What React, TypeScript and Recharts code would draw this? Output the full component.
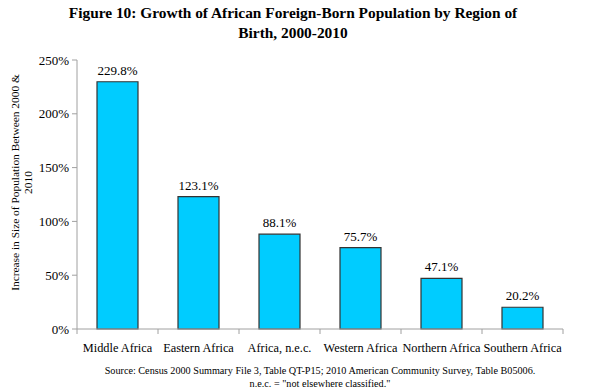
import { BarChart, Bar, XAxis, YAxis, LabelList } from "recharts";

const REGIONS = [
  "Middle Africa",
  "Eastern Africa",
  "Africa, n.e.c.",
  "Western Africa",
  "Northern Africa",
  "Southern Africa",
];
const GROWTH = [229.8, 123.1, 88.1, 75.7, 47.1, 20.2];
const Y_TICKS = [0, 50, 100, 150, 200, 250];

const FONT = "Liberation Serif, Times New Roman, serif";
const BAR_FILL = "#00ccff";
const BAR_STROKE = "#333333";
const AXIS = "#a0a0a0";
const TEXT = "#000000";

const data = REGIONS.map((region, i) => ({ region, growth: GROWTH[i] }));

const W = 590;
const H = 391;

function XTick(props: any) {
  const { x, y, payload, index } = props;
  const half = 40.5;
  return (
    <g>
      <line x1={x - half} x2={x - half} y1={y - 8} y2={y - 3} stroke={AXIS} />
      {index === REGIONS.length - 1 && (
        <line x1={x + half} x2={x + half} y1={y - 8} y2={y - 3} stroke={AXIS} />
      )}
      <text x={x} y={y + 15} textAnchor="middle" fontSize={12.3} fill={TEXT} style={{ fontFamily: FONT }}>
        {payload.value}
      </text>
    </g>
  );
}

function YLabel(props: any) {
  const { viewBox } = props;
  const cy = viewBox.y + viewBox.height / 2 - 12;
  return (
    <text
      transform={`translate(0, ${cy}) rotate(-90)`}
      textAnchor="middle"
      fontSize={11.4}
      fill={TEXT}
      style={{ fontFamily: FONT }}
    >
      <tspan x={0} y={19}>Increase in Size of Population Between 2000 &amp;</tspan>
      <tspan x={0} y={32}>2010</tspan>
    </text>
  );
}

export default function App() {
  return (
    <div style={{ position: "absolute", left: 0, top: 0, width: W, height: H, background: "#fff", fontFamily: FONT }}>
      <div
        style={{
          position: "absolute",
          left: -2,
          top: 3,
          width: W,
          textAlign: "center",
          fontWeight: "bold",
          fontSize: 15.4,
          lineHeight: "20px",
          color: TEXT,
        }}
      >
        Figure 10: Growth of African Foreign-Born Population by Region of
        <br />
        Birth, 2000-2010
      </div>
      <BarChart
        width={W}
        height={H}
        data={data}
        margin={{ top: 60, right: 27, left: 20, bottom: 32 }}
        style={{ fontFamily: FONT }}
      >
        <XAxis
          dataKey="region"
          stroke={AXIS}
          tickLine={false}
          tick={<XTick />}
          interval={0}
          height={30}
        />
        <YAxis
          width={57}
          domain={[0, 250]}
          ticks={Y_TICKS}
          tickFormatter={(v) => `${v}%`}
          stroke={AXIS}
          tickSize={5}
          tickMargin={3}
          tick={{ fontSize: 13, fill: TEXT, style: { fontFamily: FONT } }}
          label={<YLabel />}
        />
        <Bar
          dataKey="growth"
          fill={BAR_FILL}
          stroke={BAR_STROKE}
          strokeWidth={1.2}
          barSize={41}
          isAnimationActive={false}
        >
          <LabelList
            dataKey="growth"
            position="top"
            offset={7}
            formatter={(v: any) => `${Number(v).toFixed(1)}%`}
            style={{ fontSize: 13, fill: TEXT, fontFamily: FONT }}
          />
        </Bar>
      </BarChart>
      <div
        style={{
          position: "absolute",
          left: 25,
          top: 364,
          width: W,
          textAlign: "center",
          fontSize: 10.2,
          lineHeight: "13px",
          color: TEXT,
        }}
      >
        Source: Census 2000 Summary File 3, Table QT-P15; 2010 American Community Survey, Table B05006.
        <br />
        n.e.c. = "not elsewhere classified."
      </div>
    </div>
  );
}
